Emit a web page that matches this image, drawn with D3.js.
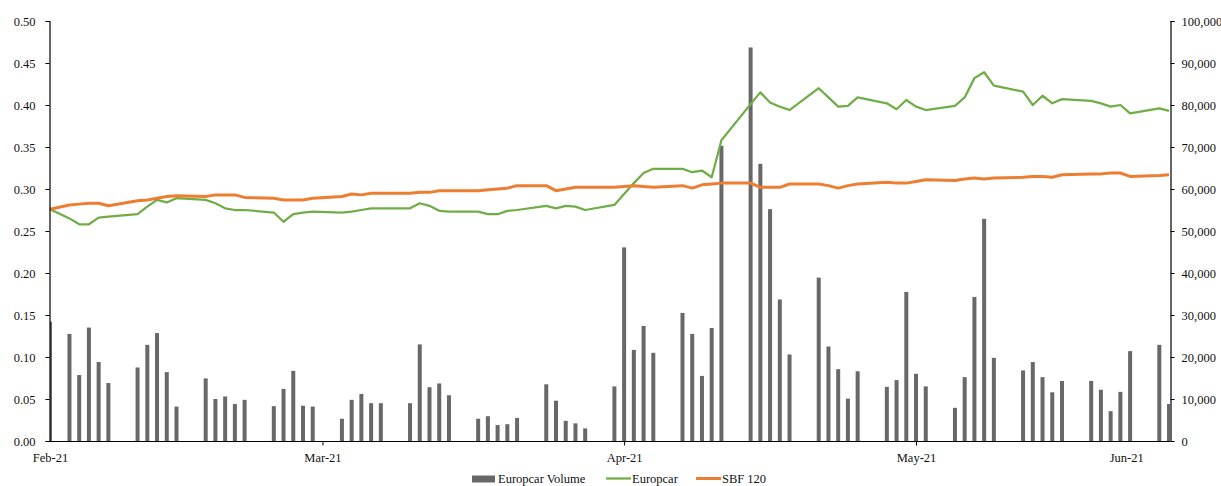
<!DOCTYPE html>
<html>
<head>
<meta charset="utf-8">
<script src="https://cdn.jsdelivr.net/npm/d3@7"></script>
<style>
  body { margin: 0; background: #fff; }
  svg { display: block; font-family: 'Liberation Serif', 'Times New Roman', serif; }
</style>
</head>
<body>
<div class="vis"></div>
<script>
  let width = 1221
  let height = 486
  let margin = { top: 21, right: 51, bottom: 45, left: 50 }

  // day offsets from 1 Feb 2021 (as plotted on the chart's date axis)
  const days = [0,
    2, 3, 4, 5, 6,
    9, 10, 11, 12, 13,
    16, 17, 18, 19, 20,
    23, 24, 25, 26, 27,
    30, 31, 32, 33, 34,
    37, 38, 39, 40, 41,
    44, 45, 46, 47, 48,
    51, 52, 53, 54, 55,
    58, 59, 60, 61, 62,
    65, 66, 67, 68, 69,
    72, 73, 74, 75, 76,
    79, 80, 81, 82, 83,
    86, 87, 88, 89, 90,
    93, 94, 95, 96, 97,
    100, 101, 102, 103, 104,
    107, 108, 109, 110, 111,
    114, 115]

  const volume = [28400,
    25500, 15700, 27000, 18800, 13800,
    17500, 22900, 25700, 16400, 8200,
    14900, 10000, 10600, 8800, 9800,
    8300, 12400, 16700, 8400, 8200,
    5300, 9800, 11200, 9000, 9000,
    9000, 23000, 12800, 13700, 10900,
    5300, 5900, 3800, 4000, 5500,
    13500, 9600, 4800, 4200, 3000,
    13000, 46100, 21700, 27400, 21000,
    30500, 25500, 15500, 26900, 70300,
    93700, 66000, 55200, 33700, 20600,
    38900, 22500, 17100, 10100, 16600,
    12900, 14500, 35500, 16000, 13000,
    7900, 15200, 34300, 52900, 19800,
    16800, 18800, 15200, 11600, 14300,
    14300, 12200, 7100, 11700, 21400,
    22900, 8800]

  const europcar = [0.276,
    0.265, 0.258, 0.258, 0.266, 0.267,
    0.270, 0.279, 0.287, 0.284, 0.289,
    0.287, 0.283, 0.277, 0.275, 0.275,
    0.272, 0.261, 0.270, 0.272, 0.273,
    0.272, 0.273, 0.275, 0.277, 0.277,
    0.277, 0.283, 0.280, 0.274, 0.273,
    0.273, 0.270, 0.270, 0.274, 0.275,
    0.280, 0.277, 0.280, 0.279, 0.275,
    0.281, 0.294, 0.307, 0.319, 0.324,
    0.324, 0.320, 0.322, 0.314, 0.358,
    0.401, 0.415, 0.403, 0.398, 0.394,
    0.420, 0.409, 0.398, 0.399, 0.409,
    0.402, 0.395, 0.406, 0.398, 0.394,
    0.399, 0.409, 0.432, 0.439, 0.423,
    0.416, 0.400, 0.411, 0.402, 0.407,
    0.405, 0.402, 0.398, 0.400, 0.390,
    0.396, 0.393]

  const sbf120 = [0.276,
    0.281, 0.282, 0.283, 0.283, 0.280,
    0.286, 0.287, 0.289, 0.291, 0.292,
    0.291, 0.293, 0.293, 0.293, 0.290,
    0.289, 0.287, 0.287, 0.287, 0.289,
    0.291, 0.294, 0.293, 0.295, 0.295,
    0.295, 0.296, 0.296, 0.298, 0.298,
    0.298, 0.299, 0.300, 0.301, 0.304,
    0.304, 0.298, 0.300, 0.302, 0.302,
    0.302, 0.303, 0.304, 0.303, 0.302,
    0.304, 0.301, 0.305, 0.306, 0.307,
    0.307, 0.302, 0.302, 0.302, 0.306,
    0.306, 0.304, 0.301, 0.304, 0.306,
    0.308, 0.307, 0.307, 0.309, 0.311,
    0.310, 0.312, 0.313, 0.312, 0.313,
    0.314, 0.315, 0.315, 0.314, 0.317,
    0.318, 0.318, 0.319, 0.319, 0.315,
    0.316, 0.317]

  const tickDays = [0, 28, 59, 89, 110.6]
  const tickLabels = ['Feb-21', 'Mar-21', 'Apr-21', 'May-21', 'Jun-21']

  const leftTicks = [0, 0.05, 0.10, 0.15, 0.20, 0.25, 0.30, 0.35, 0.40, 0.45, 0.50]
  const rightTicks = [0, 10000, 20000, 30000, 40000, 50000, 60000, 70000, 80000, 90000, 100000]

  const seriesNames = ['Europcar Volume', 'Europcar', 'SBF 120']
  const colors = { 'Europcar Volume': '#686868', 'Europcar': '#70ad47', 'SBF 120': '#ed7d31' }

  let svg = d3.select('.vis').append('svg')
    .attr('width', width)
    .attr('height', height)
    .attr('viewBox', [0, 0, width, height])

  let x = d3.scaleLinear()
    .domain([0, 115.1])
    .range([margin.left, width - margin.right])

  let y = d3.scaleLinear()
    .domain([0, 0.5])
    .range([height - margin.bottom, margin.top])

  let y2 = d3.scaleLinear()
    .domain([0, 100000])
    .range([height - margin.bottom, margin.top])

  svg.append('clipPath')
    .attr('id', 'plot')
    .append('rect')
    .attr('x', margin.left)
    .attr('y', 0)
    .attr('width', width - margin.left - margin.right)
    .attr('height', height - margin.bottom)

  let rows = days.map((d, i) => ({ day: d, vol: volume[i], ec: europcar[i], sbf: sbf120[i] }))

  // volume bars (right axis)
  svg.append('g')
    .attr('clip-path', 'url(#plot)')
    .selectAll('rect')
    .data(rows)
    .join('rect')
      .attr('x', d => x(d.day) - 2)
      .attr('width', 4)
      .attr('y', d => y2(d.vol))
      .attr('height', d => y2(0) - y2(d.vol))
      .attr('fill', colors['Europcar Volume'])

  let line = key => d3.line()
    .x(d => x(d.day))
    .y(d => y(d[key]))

  svg.append('path')
    .datum(rows)
    .attr('fill', 'none')
    .attr('stroke', colors['Europcar'])
    .attr('stroke-width', 2.25)
    .attr('stroke-linejoin', 'round')
    .attr('d', line('ec'))

  svg.append('path')
    .datum(rows)
    .attr('fill', 'none')
    .attr('stroke', colors['SBF 120'])
    .attr('stroke-width', 3)
    .attr('stroke-linejoin', 'round')
    .attr('d', line('sbf'))

  // axes
  let fontSize = 12.5

  let leftAxis = svg.append('g')
    .attr('transform', `translate(${margin.left - 0.5},0)`)
    .call(d3.axisLeft(y).tickValues(leftTicks).tickFormat(d3.format('.2f')).tickSize(4).tickPadding(10))
  let rightAxis = svg.append('g')
    .attr('transform', `translate(${width - margin.right + 0.5},0)`)
    .call(d3.axisRight(y2).tickValues(rightTicks).tickFormat(d3.format(',')).tickSize(4).tickPadding(7))
  let bottomAxis = svg.append('g')
    .attr('transform', `translate(0,${height - margin.bottom + 0.5})`)
    .call(d3.axisBottom(x).tickValues(tickDays).tickFormat((d, i) => tickLabels[i]).tickSize(4).tickPadding(8))

  ;[leftAxis, rightAxis, bottomAxis].forEach(g => {
    g.select('.domain').attr('stroke', '#000').attr('stroke-width', 1.2)
    g.selectAll('.tick line').attr('stroke', '#000')
    g.selectAll('.tick text')
      .attr('fill', '#111')
      .style('font-family', "'Liberation Serif', serif")
      .style('font-size', fontSize + 'px')
  })
  bottomAxis.select('.domain').attr('d', `M${margin.left},0H${width - margin.right}`)
  bottomAxis.selectAll('.tick line').filter((d, i) => i === 0 || i === tickDays.length - 1).remove()

  // legend
  let legendY = 478.5
  let legendX = [472, 606, 696]
  let legend = svg.append('g')
  seriesNames.forEach((name, i) => {
    if (i === 0) {
      legend.append('rect')
        .attr('x', legendX[i]).attr('y', legendY - 3)
        .attr('width', 23).attr('height', 7)
        .attr('fill', colors[name])
    } else {
      legend.append('line')
        .attr('x1', legendX[i]).attr('x2', legendX[i] + 25)
        .attr('y1', legendY).attr('y2', legendY)
        .attr('stroke', colors[name])
        .attr('stroke-width', i === 1 ? 2.25 : 3)
    }
    legend.append('text')
      .attr('x', legendX[i] + 26)
      .attr('y', legendY + 4)
      .attr('fill', '#111')
      .style('font-size', fontSize + 'px')
      .text(name)
  })
</script>
</body>
</html>
